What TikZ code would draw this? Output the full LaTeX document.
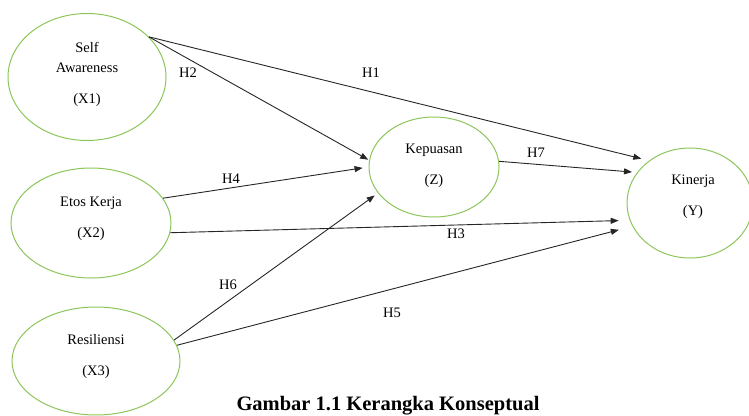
\documentclass[tikz,border=0pt]{standalone}
\usepackage{fontspec}
\setmainfont{Liberation Serif}
\usetikzlibrary{arrows.meta,shapes.geometric}
\definecolor{ovalgreen}{RGB}{140,198,90}
\begin{document}
\begin{tikzpicture}[x=1pt,y=-1pt,
    oval/.style={ellipse, draw=ovalgreen, line width=1pt, inner sep=0pt},
    varname/.style={align=center, font=\fontsize{14.5}{20}\selectfont},
    hyp/.style={font=\fontsize{14.5}{17}\selectfont},
    arr/.style={-{Triangle[length=8pt,width=6pt]}, line width=0.9pt, black!85}]
  \useasboundingbox (0,0) rectangle (749,415);
  \node[oval, minimum width=158, minimum height=127] (x1) at (87,77) {};
  \node[oval, minimum width=160, minimum height=110] (x2) at (91,223) {};
  \node[oval, minimum width=168, minimum height=108] (x3) at (96,361) {};
  \node[oval, minimum width=130, minimum height=100] (z) at (434,167) {};
  \node[oval, minimum width=126, minimum height=110] (y) at (690,203) {};
  \node[varname] (x1t) at (87,74) {Self\\Awareness\\[11pt](X1)};
  \node[varname] (x2t) at (91,218.5) {Etos Kerja\\[11pt](X2)};
  \node[varname] (x3t) at (96,357) {Resiliensi\\[11pt](X3)};
  \node[varname] (zt) at (434,165.5) {Kepuasan\\[11pt](Z)};
  \node[varname] (yt) at (693,197) {Kinerja\\[11pt](Y)};
  \draw[arr, shorten >=8pt] (x1.33) -- (y.134);
  \draw[arr, shorten >=1pt] (x1.33) -- (z.174);
  \draw[arr, shorten >=6pt] (x2.19) -- (z.180);
  \draw[arr, shorten >=11pt] (x2.-7) -- (y.196);
  \draw[arr, shorten >=4pt] (x3.15) -- (z.205);
  \draw[arr, shorten >=14pt] (x3.11) -- (y.202);
  \draw[arr, shorten >=5pt] (z.5) -- (y.150);
  \node[hyp] (h1) at (371,73) {H1};
  \node[hyp] (h2) at (188,73) {H2};
  \node[hyp] (h3) at (456,234) {H3};
  \node[hyp] (h4) at (231,179) {H4};
  \node[hyp] (h5) at (392,313) {H5};
  \node[hyp] (h6) at (228,285) {H6};
  \node[hyp] (h7) at (536,153) {H7};
  \node[font=\fontsize{20.5}{24}\selectfont\bfseries, anchor=base] (cap) at (388,410)
    {Gambar 1.1 Kerangka Konseptual};
\end{tikzpicture}
\end{document}
